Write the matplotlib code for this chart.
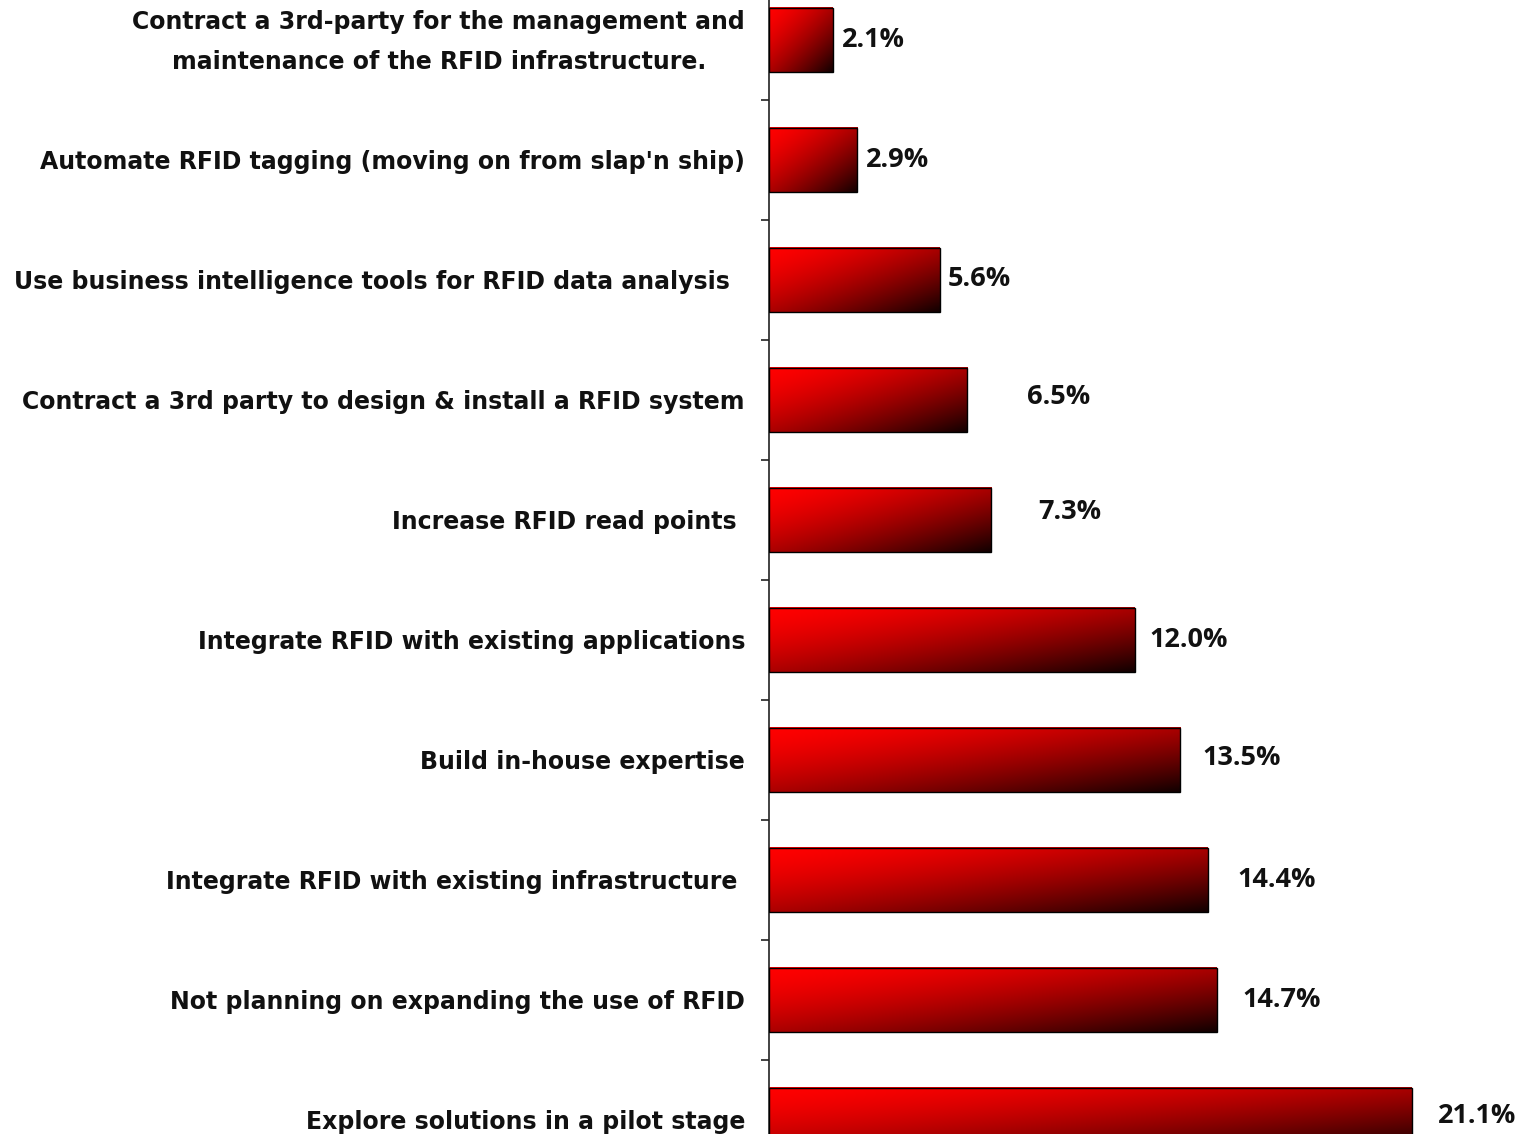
import numpy as np
import matplotlib
matplotlib.use('Agg')
import matplotlib.pyplot as plt
from matplotlib.patches import Rectangle

# survey answers, top to bottom
categories = [
    "Contract a 3rd-party for the management and\nmaintenance of the RFID infrastructure.",
    "Automate RFID tagging (moving on from slap'n ship)",
    "Use business intelligence tools for RFID data analysis",
    "Contract a 3rd party to design & install a RFID system",
    "Increase RFID read points",
    "Integrate RFID with existing applications",
    "Build in-house expertise",
    "Integrate RFID with existing infrastructure",
    "Not planning on expanding the use of RFID",
    "Explore solutions in a pilot stage",
]
values = [2.1, 2.9, 5.6, 6.5, 7.3, 12.0, 13.5, 14.4, 14.7, 21.1]
value_labels = ["2.1%", "2.9%", "5.6%", "6.5%", "7.3%", "12.0%", "13.5%",
                "14.4%", "14.7%", "21.1%"]

# label placement quirks of the original (pixels)
cat_pad = [24, 24, 39, 24, 32, 24, 24, 32, 24, 24]
val_off = [(9, 0), (9, 0), (8, 1), (60, 3), (47, 8), (15, 0), (22, 2),
           (30, 0), (26, 0), (26, 4)]

W, H, DPI = 1520, 1134, 100
fig = plt.figure(figsize=(W / DPI, H / DPI), dpi=DPI, facecolor='white')
ax = fig.add_axes([769 / W, -46 / H, 1 - 769 / W, 1200 / H])

n = len(values)
bar_h = 0.54

# diagonal red -> black gradient for each bar
u, v = np.meshgrid(np.linspace(0, 1, 200), np.linspace(0, 1, 60))
t = (u + v) / 2.0
grad = np.zeros(t.shape + (3,))
grad[..., 0] = 1.0 - 0.93 * t ** 1.5

for i, val in enumerate(values):
    ax.imshow(grad, extent=[0, val, i + bar_h / 2, i - bar_h / 2],
              aspect='auto', interpolation='bilinear', zorder=2)
    ax.add_patch(Rectangle((0, i - bar_h / 2), val, bar_h, facecolor='none',
                           edgecolor='black', linewidth=1.0, zorder=3))
    ax.annotate(value_labels[i], xy=(val, i), xytext=val_off[i],
                textcoords='offset pixels', ha='left', va='center',
                fontsize=19.5, fontweight='bold', family='Open Sans',
                color='#111111')
    ax.annotate(categories[i], xy=(0, i), xytext=(-cat_pad[i], -2),
                textcoords='offset pixels', ha='right', va='center',
                multialignment='center', linespacing=1.8,
                fontsize=17, fontweight='bold', family='DejaVu Sans',
                color='#111111', annotation_clip=False)

ax.set_xlim(0, (W - 769) / 30.47)
ax.set_ylim(n - 0.5, -0.5)

for s in ['top', 'right', 'bottom']:
    ax.spines[s].set_visible(False)
ax.spines['left'].set_color('#222222')
ax.spines['left'].set_linewidth(1.2)
ax.set_xticks([])
ax.set_yticks(np.arange(n - 1) + 0.5)
ax.set_yticklabels([])
ax.tick_params(axis='y', direction='out', length=6, width=1.2,
               color='#222222')

fig.savefig('out.png', dpi=DPI, facecolor='white')
